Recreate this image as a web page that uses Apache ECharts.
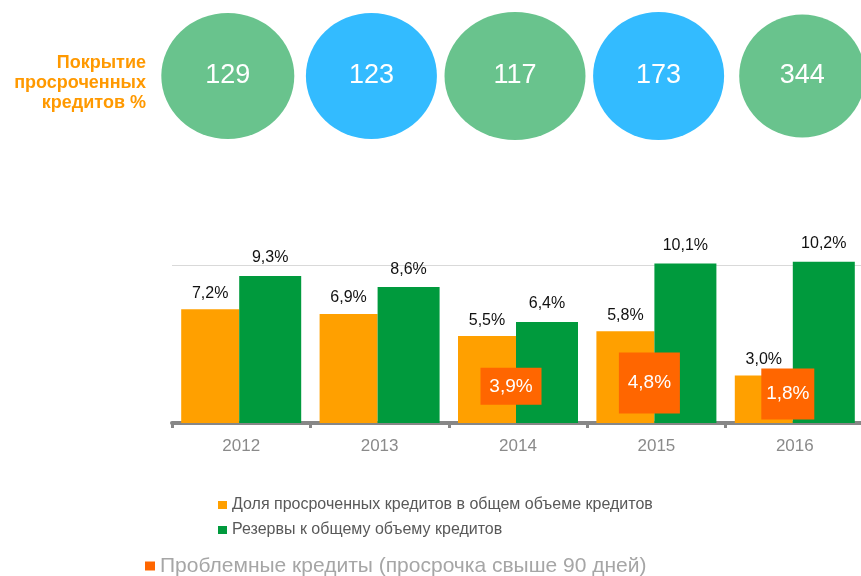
<!DOCTYPE html>
<html>
<head>
<meta charset="utf-8">
<script src="https://cdn.jsdelivr.net/npm/echarts@6/dist/echarts.min.js"></script>
<style>
	html, body { margin: 0; padding: 0; background: #fff; }
	#chart { width: 861px; height: 576px; }
</style>
</head>
<body>
<div id="chart"></div>
<script>
	// 数据
	var years = ['2012', '2013', '2014', '2015', '2016'];
	var overdueShare = [7.2, 6.9, 5.5, 5.8, 3.0];
	var reserves = [9.3, 8.6, 6.4, 10.1, 10.2];
	var problemLoans = [null, null, 3.9, 4.8, 1.8];
	var coverage = [129, 123, 117, 173, 344];
	var coverageTitle = 'Покрытие\nпросроченных\nкредитов %';
	var seriesNames = [
		'Доля просроченных кредитов в общем объеме кредитов',
		'Резервы к общему объему кредитов',
		'Проблемные кредиты (просрочка свыше 90 дней)'
	];

	// 样式
	var FONT = '"Liberation Sans", Arial, sans-serif';
	var bubbleSizes = [[133, 126], [131, 126], [141, 128], [131, 128], [126, 123]];
	var bubbleColors = ['#69C38D', '#33BBFF'];
	var boxSizes = [[61, 37], [61, 61], [53, 51]];

	function pct(v) {
		return v.toFixed(1).replace('.', ',') + '%';
	}

	var chart = echarts.init(document.getElementById('chart'));

	var boxIdx = 0;
	var problemData = problemLoans.map(function(v) {
		if (v == null) return '-';
		return { value: v, symbolSize: boxSizes[boxIdx++] };
	});

	var bubbleData = coverage.map(function(v, i) {
		return {
			value: [years[i], coverageTitle, v],
			symbolSize: bubbleSizes[i],
			itemStyle: { color: bubbleColors[i % 2] }
		};
	});

	var option = {
		animation: false,
		textStyle: { fontFamily: FONT },
		grid: [
			{ left: 172, width: 692, top: 265, height: 158, outerBoundsMode: 'none' },
			{ left: 156, width: 718, top: 23, height: 120, outerBoundsMode: 'none' }
		],
		xAxis: [{
			type: 'category',
			gridIndex: 0,
			data: years,
			axisLine: { lineStyle: { color: '#878787', width: 4 } },
			axisTick: { show: true, length: 5, lineStyle: { color: '#878787', width: 3 } },
			axisLabel: { color: '#8a8a8a', fontSize: 17, margin: 15, fontFamily: FONT }
		}, {
			type: 'category',
			gridIndex: 1,
			data: years,
			show: false
		}],
		yAxis: [{
			type: 'value',
			gridIndex: 0,
			min: 0,
			max: 10,
			interval: 10,
			axisLabel: { show: false },
			axisLine: { show: false },
			axisTick: { show: false },
			splitLine: { lineStyle: { color: '#d9d9d9', width: 1 } }
		}, {
			// 问题贷款方块的位置轴(隐藏)
			type: 'value',
			gridIndex: 0,
			min: -6.1,
			max: 36.95,
			show: false
		}, {
			type: 'category',
			gridIndex: 1,
			data: [coverageTitle],
			axisLine: { show: false },
			axisTick: { show: false },
			splitLine: { show: false },
			axisLabel: {
				color: '#FF9900',
				fontWeight: 'bold',
				fontSize: 18,
				lineHeight: 20,
				margin: 10,
				align: 'right',
				fontFamily: FONT
			}
		}],
		legend: [{
			orient: 'vertical',
			left: 218,
			top: 497,
			padding: 0,
			icon: 'rect',
			itemWidth: 9,
			itemHeight: 8,
			itemGap: 9,
			data: [seriesNames[0], seriesNames[1]],
			textStyle: { color: '#595959', fontSize: 16, lineHeight: 16, fontFamily: FONT }
		}, {
			left: 145,
			top: 555,
			padding: 0,
			icon: 'rect',
			itemWidth: 10,
			itemHeight: 9,
			data: [seriesNames[2]],
			textStyle: { color: '#a6a6a6', fontSize: 21, lineHeight: 22, fontFamily: FONT }
		}],
		series: [{
			name: seriesNames[0],
			type: 'bar',
			xAxisIndex: 0,
			yAxisIndex: 0,
			data: overdueShare,
			barWidth: 58,
			barGap: '0%',
			clip: false,
			itemStyle: { color: '#FFA000' },
			label: {
				show: true,
				position: 'top',
				distance: 8,
				color: '#111',
				fontSize: 16,
				fontFamily: FONT,
				formatter: function(p) { return pct(p.value); }
			}
		}, {
			name: seriesNames[1],
			type: 'bar',
			xAxisIndex: 0,
			yAxisIndex: 0,
			data: reserves,
			barWidth: 62,
			barGap: '0%',
			clip: false,
			itemStyle: { color: '#009A3D' },
			label: {
				show: true,
				position: 'top',
				distance: 10,
				color: '#111',
				fontSize: 16,
				fontFamily: FONT,
				formatter: function(p) { return pct(p.value); }
			}
		}, {
			name: seriesNames[2],
			type: 'scatter',
			xAxisIndex: 0,
			yAxisIndex: 1,
			symbol: 'rect',
			symbolOffset: [-7, 0],
			z: 5,
			data: problemData,
			itemStyle: { color: '#FF6600', opacity: 1 },
			label: {
				show: true,
				position: 'inside',
				color: '#fff',
				fontSize: 19,
				fontFamily: FONT,
				formatter: function(p) { return pct(p.value); }
			}
		}, {
			name: 'coverage',
			type: 'scatter',
			xAxisIndex: 1,
			yAxisIndex: 2,
			symbol: 'circle',
			symbolOffset: [0, -7],
			data: bubbleData,
			itemStyle: { opacity: 1 },
			label: {
				show: true,
				position: 'inside',
				color: '#fff',
				fontSize: 27,
				fontFamily: FONT,
				formatter: function(p) { return p.value[2]; }
			}
		}]
	};

	chart.setOption(option);
</script>
</body>
</html>
